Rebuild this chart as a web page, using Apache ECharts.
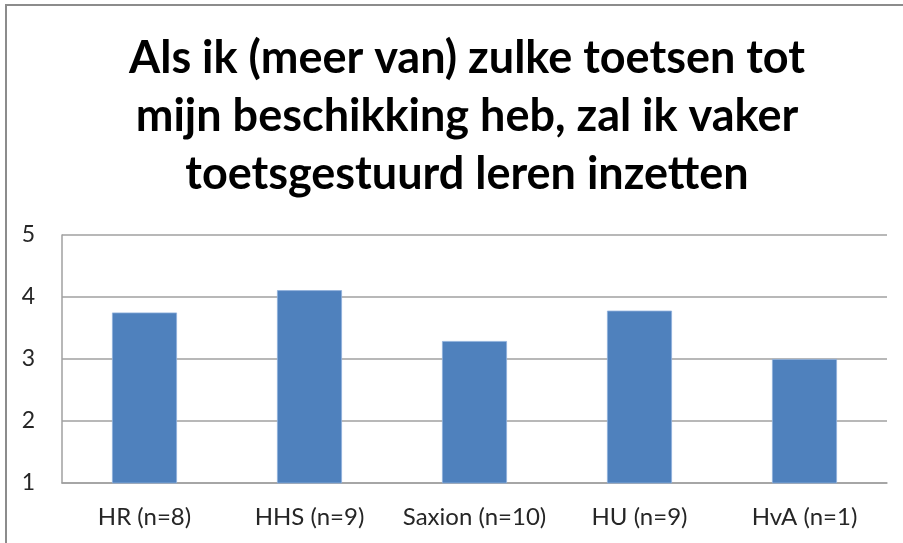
<!DOCTYPE html>
<html><head><meta charset="utf-8">
<script src="https://cdn.jsdelivr.net/npm/echarts@6/dist/echarts.min.js"></script>
<style>html,body{margin:0;padding:0;background:#fff}#c{width:903px;height:543px}</style>
</head><body><div id="c"></div>
<script>
const titleText = "Als ik (meer van) zulke toetsen tot\nmijn beschikking heb, zal ik vaker\ntoetsgestuurd leren inzetten";
const categories = ["HR (n=8)", "HHS (n=9)", "Saxion (n=10)", "HU (n=9)", "HvA (n=1)"];
const values = [3.75, 4.11, 3.29, 3.78, 3.0];
const yTicks = [1, 2, 3, 4, 5];

const chart = echarts.init(document.getElementById('c'), null, {renderer: 'canvas'});
chart.setOption({
  backgroundColor: '#fff',
  animation: false,
  graphic: [{
    type: 'polyline', silent: true,
    shape: {points: [[6, 560], [6, 5], [920, 5]]},
    style: {stroke: '#8c8c8c', lineWidth: 2, fill: null}
  }],
  title: {
    text: titleText, left: 462, top: 24, textAlign: 'center',
    textStyle: {fontFamily: 'Lato', fontWeight: 'bold', fontSize: 45, lineHeight: 58, color: '#000'}
  },
  grid: {left: 62, right: 16, top: 235, bottom: 60, containLabel: false, show: false},
  xAxis: {
    type: 'category', data: categories,
    axisLine: {show: true, lineStyle: {color: '#a0a0a0', width: 1.5}},
    axisTick: {show: false},
    axisLabel: {fontFamily: 'Lato', fontSize: 24, color: '#262626', margin: 22, interval: 0}
  },
  yAxis: {
    type: 'value', min: yTicks[0], max: yTicks[yTicks.length - 1], interval: 1,
    axisLine: {show: true, lineStyle: {color: '#a0a0a0', width: 1.5}},
    axisTick: {show: false},
    splitLine: {show: true, lineStyle: {color: '#a0a0a0', width: 1.5}},
    axisLabel: {fontFamily: 'Lato', fontSize: 23, color: '#262626', margin: 27, verticalAlign: 'middle'}
  },
  series: [{
    type: 'bar', data: values, barWidth: 65,
    itemStyle: {color: '#4f81bd', borderColor: '#8fb0dc', borderWidth: 0.8}
  }]
});
</script></body></html>
